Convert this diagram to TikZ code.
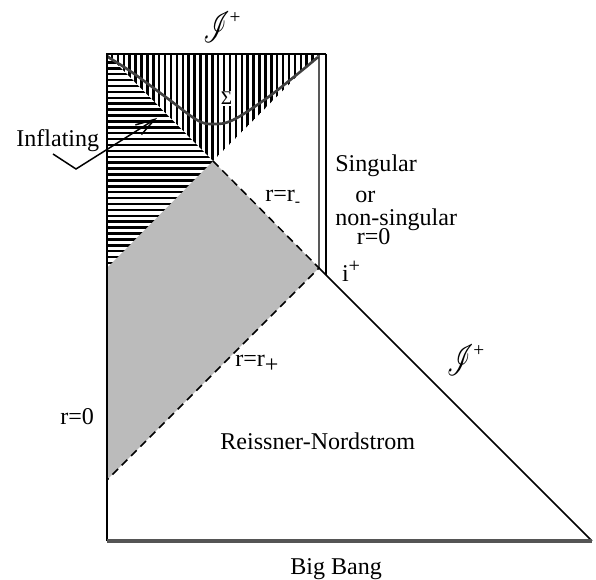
\documentclass[tikz,border=0pt]{standalone}
\usepackage{fontspec}
\setmainfont{Liberation Serif}
\usepackage{mathrsfs}
\usepackage{tikz}
\usetikzlibrary{arrows.meta}
\definecolor{pengray}{HTML}{BBBBBB}
\definecolor{pensigmaline}{HTML}{404040}
\definecolor{penbangline}{HTML}{555555}
\tikzset{%
  penline/.style={%
    line width=0.85pt,
    draw=black
  },
  pendash/.style={%
    penline,
    dash pattern=on 4.5pt off 3pt
  },
  penhatch/.style={line width=1.4pt,draw=black},
  pensigma/.style={line width=1.5pt,draw=pensigmaline},
  penbang/.style={line width=1.8pt,draw=penbangline},
  penlabel/.style={%
    inner sep=0pt,
    anchor=base west,
    font=\fontsize{13.7}{16}\selectfont
  },
  penscri/.style={%
    inner sep=0pt,
    anchor=north west,
    font=\fontsize{24.88}{28}\selectfont
  },
  penarrow/.style={-{Straight Barb[length=11pt,width=6.5pt]},line width=0.85pt}
}
\newcommand{\scriplus}{\scalebox{0.6}[1]{$\mathscr{I}$}\raisebox{11pt}{\fontsize{11}{11}\selectfont +}}

\begin{document}
\begin{tikzpicture}[x=0.02cm,y=-0.02cm]
    \useasboundingbox (0,0) rectangle (596,580);

    \coordinate (topleft) at (107,54);
    \coordinate (topright) at (326,54);
    \coordinate (innertop) at (319,54);
    \coordinate (apex) at (213,161);
    \coordinate (iplus) at (319,268);
    \coordinate (leftmid) at (107,268);
    \coordinate (leftlow) at (107,480);
    \coordinate (bottomleft) at (107,541);
    \coordinate (bottomright) at (592,541);
    \coordinate (outerfoot) at (326,275);

    % shaded region between the horizons
    \fill[pengray] (apex) -- (iplus) -- (leftlow) -- (leftmid) -- cycle;

    % hatched regions
    \begin{scope}
      \clip (topleft) -- (apex) -- (leftmid) -- cycle;
      \foreach \y in {56.5,62.4,...,268}
        \draw[penhatch] (107,\y) -- (215,\y);
    \end{scope}
    \begin{scope}
      \clip (topleft) -- (innertop) -- (apex) -- cycle;
      \foreach \x in {112,117.9,...,319}
        \draw[penhatch] (\x,54) -- (\x,162);
    \end{scope}

    \draw[pensigma] plot[smooth,tension=0.6] coordinates {(108,57) (133,73) (167,98) (197,120) (213,124) (233,120) (267,98) (300,72) (318,57)};

    \draw[penline] (topright) -- (topleft) -- (bottomleft);
    \draw[penline] (topright) -- (outerfoot);
    \draw[penline] (innertop) -- (iplus) -- (bottomright);
    \draw[pendash] (apex) -- (iplus) -- (leftlow);
    \draw[penbang] (bottomleft) -- (bottomright);

    \node[inner sep=0.6pt,fill=white,font=\fontsize{11}{12}\selectfont] (sigma) at (226.5,98.5) {Σ};
    \node[penscri] (scritop) at (203,12) {\scriplus};
    \node[penscri] (scriright) at (446.7,345) {\scriplus};

    \node[penlabel] (inflating) at (16,147) {Inflating};
    \coordinate (inflatestart) at (53,154);
    \coordinate (inflatekink) at (76,169);
    \coordinate (inflatetip) at (157,118);
    \draw[penarrow] (inflatestart) -- (inflatekink) -- (inflatetip);

    \node[penlabel] (rminus) at (265,201.7) {r=r\raisebox{-2.6pt}{\fontsize{9}{9}\selectfont -}};
    \node[penlabel] (singular) at (335,171.5) {Singular};
    \node[penlabel] (or) at (355,203) {or};
    \node[penlabel] (nonsingular) at (335,226) {non-singular};
    \node[penlabel] (rzeroright) at (356.5,245) {r=0};
    \node[penlabel] (ipluslabel) at (341.7,282) {i\raisebox{5.2pt}{\fontsize{11.5}{12}\selectfont +}};
    \node[penlabel] (rplus) at (235,366.7) {r=r\raisebox{-0.25em}{+}};
    \node[penlabel] (rzeroleft) at (60,425) {r=0};
    \node[penlabel] (rn) at (220,450) {Reissner-Nordstrom};
    \node[penlabel] (bigbang) at (290,574.5) {Big Bang};
\end{tikzpicture}
\end{document}
